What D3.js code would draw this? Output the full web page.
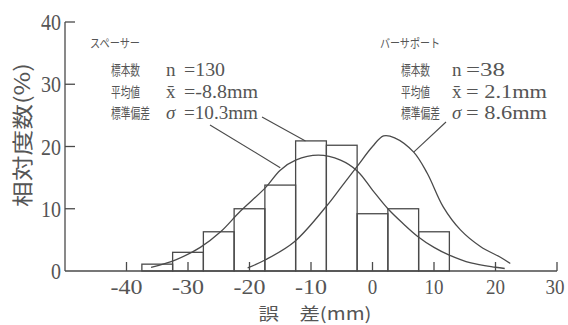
<!DOCTYPE html>
<html>
<head>
<meta charset="utf-8">
<script src="https://cdn.jsdelivr.net/npm/d3@7"></script>
<style>
  body { margin: 0; background: #fff; }
  text { fill: #555; }
</style>
</head>
<body>
<svg id="chart" width="568" height="325"></svg>
<script>
// histogram: 5mm bins, relative frequency (%)
const binCenters = [-35, -30, -25, -20, -15, -10, -5, 0, 5, 10];
const binPercent = [1.1, 3.0, 6.3, 10.0, 13.8, 20.9, 20.2, 9.2, 10.0, 6.3];

// fitted curves: [error mm, %]
const spacerCurve = [[-36, 0.6], [-32, 1.8], [-28, 3.8], [-24.7, 6.3], [-21.5, 9.6], [-17.4, 13.4],
  [-15, 16.2], [-12.5, 17.8], [-8.8, 18.6], [-5.2, 17.8], [-2.4, 16.0], [0, 13.0], [2.5, 10.0],
  [5, 7.6], [7.3, 5.6], [10, 3.8], [12.4, 2.6], [16, 1.3], [20, 0.6], [21.5, 0.4]];
const supportCurve = [[-20.3, 0.5], [-17.4, 1.8], [-12.7, 4.7], [-7.5, 10.4], [-5, 13.6],
  [-2.5, 16.8], [0, 20.0], [1.8, 21.7], [3.6, 21.4], [6.7, 19.1], [8.9, 15.7], [11.5, 10.3],
  [14.3, 6.6], [17.6, 3.9], [20.8, 2.2], [22.4, 1.2]];

const xTicks = [-40, -30, -20, -10, 0, 10, 20, 30];
const yTicks = [0, 10, 20, 30, 40];

const spacerTitle = "スペーサー";
const spacerStats = [["標本数", "n", "=130"], ["平均値", "x̄", "=-8.8mm"], ["標準偏差", "σ", "=10.3mm"]];
const supportTitle = "バーサポート";
const supportStats = [["標本数", "n", "=38"], ["平均値", "x̄", "=  2.1mm"], ["標準偏差", "σ", "=  8.6mm"]];

const ink = "#4a4a4a";
const svg = d3.select("#chart");

const x = d3.scaleLinear().domain([-50, 30]).range([65, 557]);
const y = d3.scaleLinear().domain([0, 40]).range([271, 22]);

// helper for the narrow typewriter-ish text
function txt(g, px, py, s, size, w, opts = {}) {
  const t = g.append("text")
    .attr("x", px).attr("y", py)
    .attr("font-size", size)
    .attr("font-family", opts.family || "'Liberation Serif', serif")
    .text(s);
  if (w) t.attr("textLength", w).attr("lengthAdjust", "spacingAndGlyphs");
  if (opts.anchor) t.attr("text-anchor", opts.anchor);
  if (opts.italic) t.attr("font-style", "italic");
  return t;
}

// bars
const bw = x(5) - x(0);
svg.append("g").selectAll("rect")
  .data(binCenters)
  .join("rect")
    .attr("x", d => x(d - 2.5))
    .attr("y", (d, i) => y(binPercent[i]))
    .attr("width", bw)
    .attr("height", (d, i) => y(0) - y(binPercent[i]))
    .attr("fill", "none")
    .attr("stroke", ink)
    .attr("stroke-width", 1.3);

// curves
const line = d3.line().x(d => x(d[0])).y(d => y(d[1])).curve(d3.curveCatmullRom);
svg.append("g").selectAll("path")
  .data([spacerCurve, supportCurve])
  .join("path")
    .attr("d", line)
    .attr("fill", "none")
    .attr("stroke", ink)
    .attr("stroke-width", 1.3);

// axes
const axes = svg.append("g").attr("stroke", ink).attr("stroke-width", 1.3);
axes.append("line").attr("x1", x(-50)).attr("x2", x(-50)).attr("y1", y(40)).attr("y2", y(0));
axes.append("line").attr("x1", x(-50)).attr("x2", x(30)).attr("y1", y(0)).attr("y2", y(0));
axes.selectAll(".yt").data(yTicks.filter(d => d > 0)).join("line")
  .attr("x1", x(-50)).attr("x2", x(-50) + 10)
  .attr("y1", d => y(d)).attr("y2", d => y(d));
axes.selectAll(".xt").data(xTicks).join("line")
  .attr("x1", d => x(d)).attr("x2", d => x(d))
  .attr("y1", y(0)).attr("y2", y(0) - 9);

const labels = svg.append("g");
yTicks.forEach(d => {
  const s = String(d);
  txt(labels, x(-50) - 4, y(d) + 8, s, 23, s.length * 10, { anchor: "end" });
});
xTicks.forEach(d => {
  const s = d < 0 ? "-" + Math.abs(d) : String(d);
  const w = d < 0 ? 32 : s.length * 9.5;
  const px = d === 30 ? x(d) - 2 : x(d);
  txt(labels, px, y(0) + 23, s, 21, w, { anchor: "middle" });
});

// axis titles
txt(labels, 315, 320, "誤　差(mm)", 17, 113, { anchor: "middle", family: "'Noto Sans CJK JP', sans-serif" });
txt(labels, 0, 0, "相対度数(%)", 21, 144, { anchor: "middle", family: "'Noto Sans CJK JP', sans-serif" })
  .attr("transform", "translate(30,135) rotate(-90)");

// stats blocks
function statBlock(title, rows, x0, labelW, symX, valX, valW) {
  const g = svg.append("g");
  txt(g, x0, 48, title, 12, title.length * 10, { family: "'Noto Sans CJK JP', sans-serif" });
  rows.forEach((r, i) => {
    const by = 76 + i * 21.5;
    txt(g, x0 + 21, by - 1, r[0], 14, labelW[i], { family: "'Noto Sans CJK JP', sans-serif" });
    txt(g, symX, by, r[1], 19, null, { italic: r[1] === "σ" });
    txt(g, valX, by, r[2], 19, valW[i]);
  });
  return g;
}
statBlock(spacerTitle, spacerStats, 90, [29, 29, 39], 166, 184, [41, 74, 74]);
statBlock(supportTitle, supportStats, 380, [29, 29, 39], 452, 466, [39, 81, 81]);

// leader lines
const leaders = [
  [[210, 125], [x(-15), y(16.6)]],
  [[262, 117], [x(-10.9), y(20.9)]],
  [[446, 122], [x(6.7), y(19.1)]]
];
svg.append("g").selectAll("line")
  .data(leaders)
  .join("line")
    .attr("x1", d => d[0][0]).attr("y1", d => d[0][1])
    .attr("x2", d => d[1][0]).attr("y2", d => d[1][1])
    .attr("stroke", ink)
    .attr("stroke-width", 1.1);
</script>
</body>
</html>
